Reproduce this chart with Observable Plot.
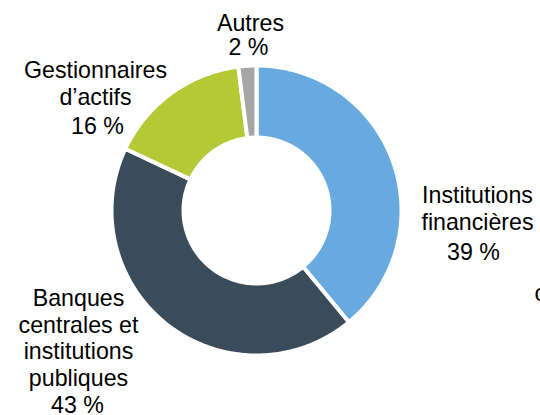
<!DOCTYPE html>
<html>
<head>
<meta charset="utf-8">
<script src="https://cdn.jsdelivr.net/npm/d3@7"></script>
<script src="https://cdn.jsdelivr.net/npm/@observablehq/plot@0.6"></script>
<style>
  html, body { margin: 0; padding: 0; background: #fff; }
  #chart svg { display: block; }
</style>
</head>
<body>
<div id="chart"></div>
<script>
// ---- data ----
const categories = ["Institutions financières", "Banques centrales et institutions publiques", "Gestionnaires d’actifs", "Autres"];
const values = [39, 43, 16, 2];
const labelNames = ["Institutions\nfinancières", "Banques\ncentrales et\ninstitutions\npubliques", "Gestionnaires\nd’actifs", "Autres"];
const percentLabels = ["39 %", "43 %", "16 %", "2 %"];
const colors = ["#68a9df", "#3a4b5a", "#b3c935", "#a6a6a6"];

// ---- layout (pixels relative to donut centre) ----
const W = 540, H = 415;
const cx = 256, cy = 210;
const outerR = 145, innerR = 73;
const fontSize = 23.2;
// name block: centre x, cap-top y of first line ; percent: centre x, cap-top y
const nameLayout = [[477, 183], [78, 286], [95, 58], [250, 11]];
const pctLayout = [[473, 243], [77, 396], [97, 117], [248, 38]];

// ---- build arc polygons from values ----
const total = d3.sum(values);
const arcPts = [];
let cum = 0;
values.forEach((v, i) => {
  const a0 = cum / total * 2 * Math.PI;
  cum += v;
  const a1 = cum / total * 2 * Math.PI;
  const n = Math.max(4, Math.ceil((a1 - a0) / (Math.PI / 180)));
  for (let k = 0; k <= n; k++) {
    const a = a0 + (a1 - a0) * k / n;
    arcPts.push({cat: categories[i], x: outerR * Math.sin(a), y: -outerR * Math.cos(a)});
  }
  for (let k = n; k >= 0; k--) {
    const a = a0 + (a1 - a0) * k / n;
    arcPts.push({cat: categories[i], x: innerR * Math.sin(a), y: -innerR * Math.cos(a)});
  }
});

const names = categories.map((c, i) => ({cat: c, text: labelNames[i], x: nameLayout[i][0] - cx, y: nameLayout[i][1] - cy}));
const pcts = categories.map((c, i) => ({cat: c, text: percentLabels[i], x: pctLayout[i][0] - cx, y: pctLayout[i][1] - cy}));

const chart = Plot.plot({
  width: W,
  height: H,
  margin: 0,
  style: {background: "#fff", fontFamily: "'Liberation Sans', Arial, sans-serif", overflow: "hidden"},
  x: {domain: [-cx, W - cx], range: [0, W], axis: null},
  y: {domain: [-cy, H - cy], range: [0, H], axis: null},
  color: {domain: categories, range: colors},
  marks: [
    Plot.line(arcPts, {x: "x", y: "y", z: "cat", fill: "cat", stroke: "#fff", strokeWidth: 4, curve: "linear-closed"}),
    Plot.text(names, {x: "x", y: "y", text: "text", lineAnchor: "top", lineHeight: 1.16, fontSize: fontSize, fill: "#000", textAnchor: "middle"}),
    Plot.text(pcts, {x: "x", y: "y", text: "text", lineAnchor: "top", fontSize: fontSize, fill: "#000", textAnchor: "middle"}),
    Plot.text(["c"], {x: () => 534 - cx, y: () => 284 - cy, text: d => d, lineAnchor: "top", fontSize: fontSize, fill: "#000", textAnchor: "start"})
  ]
});
document.getElementById("chart").appendChild(chart);
</script>
</body>
</html>
